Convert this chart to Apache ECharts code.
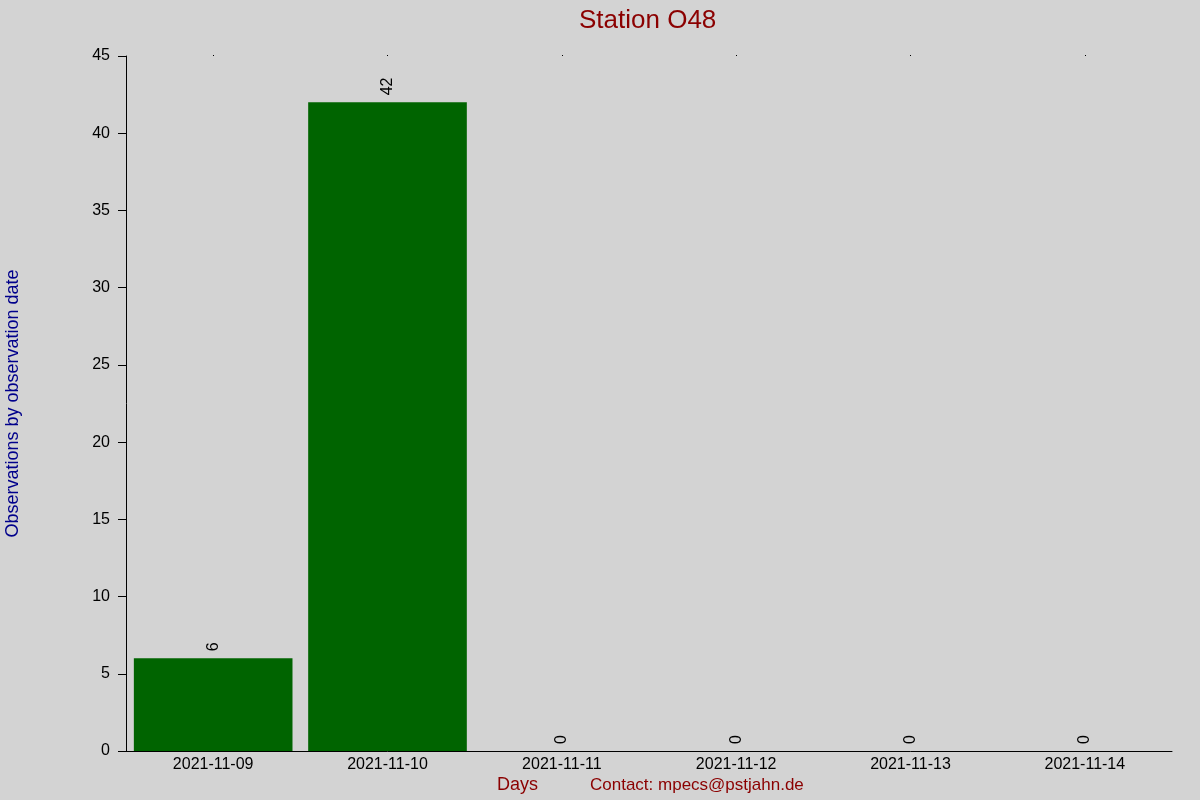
<!doctype html>
<html>
 <head>
  <meta charset="UTF-8">
  <script src="https://cdn.jsdelivr.net/npm/echarts@6/dist/echarts.min.js"></script>
  <title>Station O48</title>
  <style>
   body { margin: 0; background: #d3d3d3; }
   #chart { width: 1200px; height: 800px; }
  </style>
 </head>
 <body>
  <div id="chart"></div>
  <script type="text/javascript">
    var days = ['2021-11-09', '2021-11-10', '2021-11-11', '2021-11-12', '2021-11-13', '2021-11-14'];
    var counts = [6, 42, 0, 0, 0, 0];

    var font = 'Liberation Sans, Arial, sans-serif';
    var myChart = echarts.init(document.getElementById('chart'));
    myChart.setOption({
        backgroundColor: '#d3d3d3',
        animation: false,
        textStyle: { fontFamily: font },
        title: {
            text: 'Station O48',
            left: 574,
            top: 3,
            textStyle: { color: '#8b0000', fontSize: 26, fontWeight: 'normal', fontFamily: font }
        },
        grid: { left: 126, right: 28, top: 56, bottom: 49, outerBoundsMode: 'none', containLabel: false },
        xAxis: [{
            type: 'category',
            data: days,
            axisLine: { lineStyle: { color: '#000', width: 1 } },
            axisTick: { show: false },
            axisLabel: { color: '#000', fontSize: 16, margin: 6, fontFamily: font }
        }, {
            type: 'category',
            position: 'top',
            data: days,
            axisLine: { show: false },
            axisTick: { show: true, alignWithLabel: true, length: 1, lineStyle: { color: '#000' } },
            axisLabel: { show: false }
        }],
        yAxis: {
            type: 'value',
            min: 0,
            max: 45,
            interval: 5,
            name: 'Observations by observation date',
            nameLocation: 'middle',
            nameGap: 104,
            nameTextStyle: { color: '#00008b', fontSize: 18, fontFamily: font },
            splitLine: { show: false },
            axisLine: { show: true, lineStyle: { color: '#000', width: 1 } },
            axisTick: { show: true, length: 8, lineStyle: { color: '#000' } },
            axisLabel: { color: '#000', fontSize: 16, margin: 16, fontFamily: font }
        },
        series: [{
            type: 'bar',
            data: counts,
            barCategoryGap: '9%',
            itemStyle: { color: '#006400' },
            label: {
                show: true,
                position: 'top',
                rotate: 90,
                align: 'left',
                verticalAlign: 'middle',
                distance: 7,
                color: '#000',
                fontSize: 16,
                fontFamily: font
            }
        }],
        graphic: [{
            type: 'text',
            left: 497,
            top: 776,
            style: { text: 'Days', fill: '#8b0000', fontSize: 18, fontFamily: font }
        }, {
            type: 'text',
            left: 590,
            top: 777,
            style: { text: 'Contact: mpecs@pstjahn.de', fill: '#8b0000', fontSize: 17, fontFamily: font }
        }]
    });
  </script>
 </body>
</html>
